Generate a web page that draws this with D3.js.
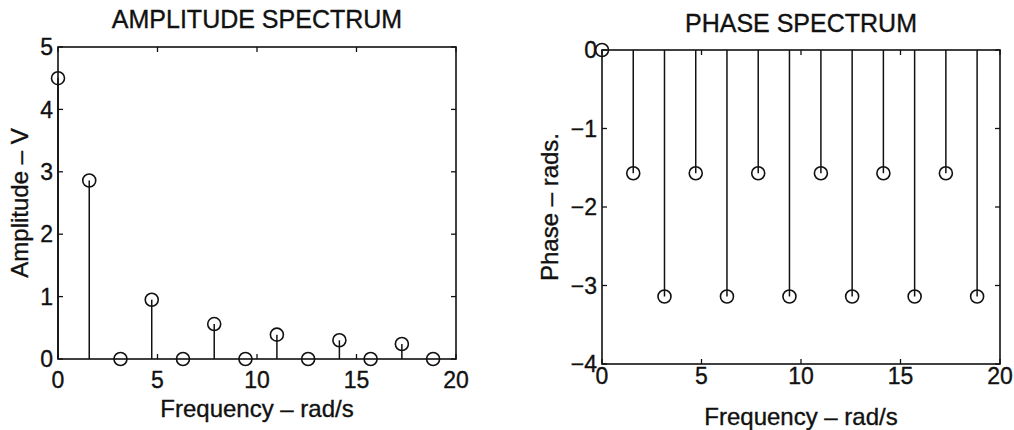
<!DOCTYPE html>
<head>
  <meta charset="utf-8">
  <script src="https://d3js.org/d3.v7.min.js"></script>
  <style>
    body { margin: 0; background: #fff; }
    svg text { font-family: "Liberation Sans", Arial, sans-serif; fill: #111; stroke: #111; stroke-width: 0.35; }
  </style>
</head>
<body>
  <svg id="chart" width="1014" height="430"></svg>
  <script>
    // frequencies are multiples of pi/2 rad/s
    var freqs = [0, 1.57, 3.14, 4.71, 6.28, 7.85, 9.42, 11.0, 12.57, 14.14, 15.71, 17.28, 18.85];
    var amplitude = [4.5, 2.86, 0, 0.95, 0, 0.56, 0, 0.39, 0, 0.3, 0, 0.24, 0];
    var phase = [0, -1.57, -3.14, -1.57, -3.14, -1.57, -3.14, -1.57, -3.14, -1.57, -3.14, -1.57, -3.14];
    var xTicks = [0, 5, 10, 15, 20];
    var ampTicks = [0, 1, 2, 3, 4, 5];
    var phaseTicks = [-4, -3, -2, -1, 0];

    var svg = d3.select("#chart");

    function panel(p) {
      var x = d3.scaleLinear().domain([0, 20]).range([p.left, p.right]);
      var y = d3.scaleLinear().domain(p.ydomain).range([p.bottom, p.top]);
      var g = svg.append("g");

      // box
      g.append("rect")
        .attr("x", p.left).attr("y", p.top)
        .attr("width", p.right - p.left).attr("height", p.bottom - p.top)
        .attr("fill", "none").attr("stroke", "#111").attr("stroke-width", 1.6);

      // inward ticks on all sides
      xTicks.forEach(function(t) {
        g.append("line").attr("x1", x(t)).attr("x2", x(t))
          .attr("y1", p.bottom).attr("y2", p.bottom - 5)
          .attr("stroke", "#111").attr("stroke-width", 1.3);
        g.append("line").attr("x1", x(t)).attr("x2", x(t))
          .attr("y1", p.top).attr("y2", p.top + 5)
          .attr("stroke", "#111").attr("stroke-width", 1.3);
        g.append("text").attr("x", x(t)).attr("y", p.bottom + p.xlabOff)
          .attr("text-anchor", "middle").attr("font-size", 23).text(t);
      });
      p.yticks.forEach(function(t) {
        g.append("line").attr("x1", p.left).attr("x2", p.left + 5)
          .attr("y1", y(t)).attr("y2", y(t))
          .attr("stroke", "#111").attr("stroke-width", 1.3);
        g.append("line").attr("x1", p.right).attr("x2", p.right - 5)
          .attr("y1", y(t)).attr("y2", y(t))
          .attr("stroke", "#111").attr("stroke-width", 1.3);
        g.append("text").attr("x", p.left - p.ylabGap).attr("y", y(t)).attr("dy", "0.36em")
          .attr("text-anchor", "end").attr("font-size", 23)
          .text(t < 0 ? "\u2212" + Math.abs(t) : t);
      });

      // stems
      g.selectAll(".stem").data(p.values).enter().append("line")
        .attr("x1", function(d, i) { return x(freqs[i]); })
        .attr("x2", function(d, i) { return x(freqs[i]); })
        .attr("y1", y(0))
        .attr("y2", function(d) { return y(d); })
        .attr("stroke", "#111").attr("stroke-width", 1.5);
      g.selectAll(".mark").data(p.values).enter().append("circle")
        .attr("cx", function(d, i) { return x(freqs[i]); })
        .attr("cy", function(d) { return y(d); })
        .attr("r", 6.5)
        .attr("fill", "none").attr("stroke", "#111").attr("stroke-width", 1.6);

      // labels
      g.append("text").attr("x", (p.left + p.right) / 2).attr("y", p.titleY)
        .attr("text-anchor", "middle").attr("font-size", 25).text(p.title);
      g.append("text").attr("x", (p.left + p.right) / 2).attr("y", p.xtitleY)
        .attr("text-anchor", "middle").attr("font-size", 24).text("Frequency \u2013 rad/s");
      g.append("text")
        .attr("transform", "translate(" + p.ytitleX + "," + ((p.top + p.bottom) / 2) + ") rotate(-90)")
        .attr("text-anchor", "middle").attr("font-size", 24).text(p.ytitle);
    }

    panel({
      left: 58, right: 456, top: 47, bottom: 359,
      ydomain: [0, 5], yticks: ampTicks, values: amplitude,
      xlabOff: 29, ylabGap: 5, titleY: 28, xtitleY: 417, ytitleX: 28,
      title: "AMPLITUDE SPECTRUM", ytitle: "Amplitude \u2013 V"
    });
    panel({
      left: 602, right: 1000, top: 50, bottom: 364,
      ydomain: [-4, 0], yticks: phaseTicks, values: phase,
      xlabOff: 20, ylabGap: 5, titleY: 32, xtitleY: 425, ytitleX: 558,
      title: "PHASE SPECTRUM", ytitle: "Phase \u2013 rads."
    });
  </script>
</body>
